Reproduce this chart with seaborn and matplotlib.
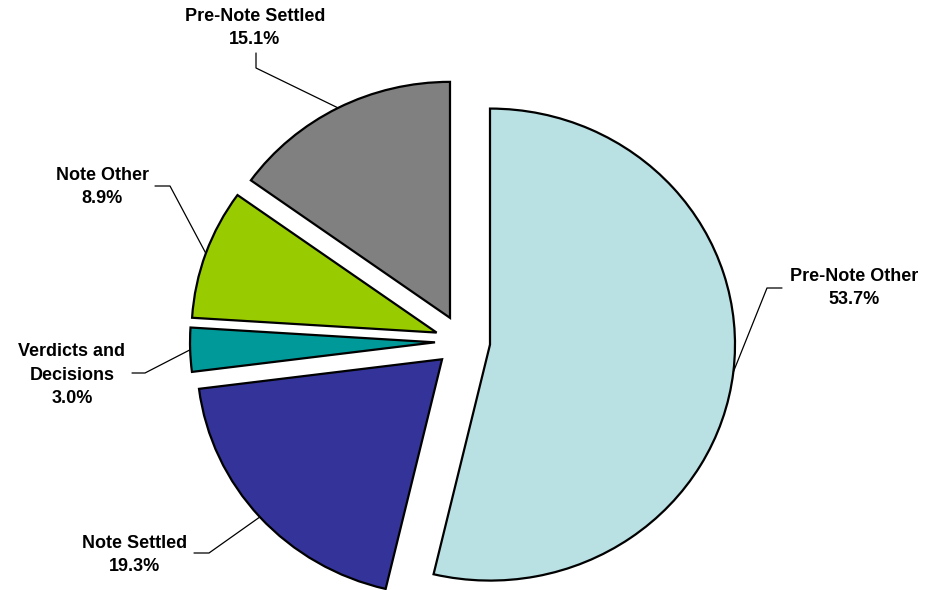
import numpy as np
import seaborn as sns
import matplotlib
matplotlib.use("Agg")
import matplotlib.pyplot as plt

# Data
categories = ["Pre-Note Other", "Note Settled", "Verdicts and\nDecisions", "Note Other", "Pre-Note Settled"]
shares = [53.7, 19.3, 3.0, 8.9, 15.1]
colors = ["#B9E1E4", "#333399", "#009999", "#99CC00", "#808080"]

# label layout (pixel positions of label centres and leader elbows)
label_pos = [(854, 288), (135, 555), (72, 375), (102, 187), (255, 28)]
elbows = [[(782, 288), (767, 288)],
          [(194, 553), (209, 553)],
          [(132, 373), (145, 373)],
          [(155, 186), (170, 186)],
          [(256, 53), (256, 68)]]

sns.set_theme(style="white")
plt.rcParams["font.family"] = ["Liberation Sans", "DejaVu Sans"]

W, H = 932, 590
fig = plt.figure(figsize=(W / 100, H / 100), dpi=100)
ax = fig.add_axes([0, 0, 1, 1])

wedges, _ = ax.pie(shares, colors=colors, startangle=90, counterclock=False,
                   explode=[0.1126] * len(shares),
                   wedgeprops=dict(edgecolor="black", linewidth=1.6))

# slightly wider than tall, like the original
sx, sy = 245.0, 236.0
cx, cy = 462.6, 341.5
x0 = -cx / sx
y1 = cy / sy
ax.set_aspect("auto")
ax.set_xlim(x0, x0 + W / sx)
ax.set_ylim(y1 - H / sy, y1)
ax.axis("off")


def px2data(px, py):
    return x0 + px / sx, y1 - py / sy


for w, cat, val, (lx, ly), elb in zip(wedges, categories, shares, label_pos, elbows):
    mid = np.deg2rad((w.theta1 + w.theta2) / 2)
    ax_, ay_ = w.center[0] + w.r * np.cos(mid), w.center[1] + w.r * np.sin(mid)
    pts = [px2data(*p) for p in elb] + [(ax_, ay_)]
    ax.plot([p[0] for p in pts], [p[1] for p in pts], color="black", lw=0.9)
    tx, ty = px2data(lx, ly)
    ax.text(tx, ty, f"{cat}\n{val:.1f}%", ha="center", va="center", color="black",
            fontsize=13, fontweight="bold", linespacing=1.5)

fig.savefig("out.png", dpi=100)
